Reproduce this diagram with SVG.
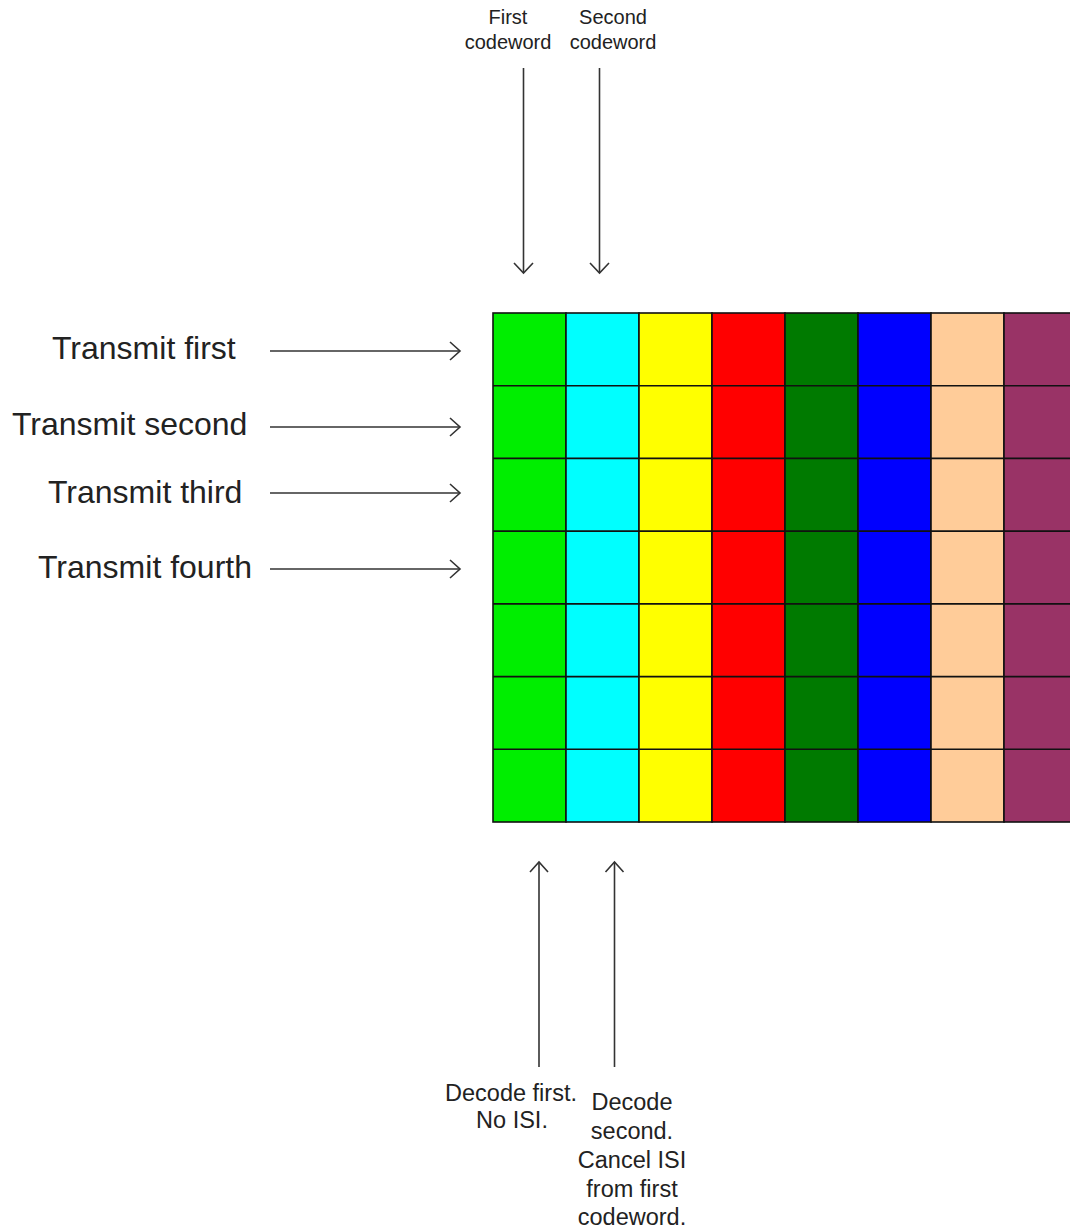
<svg xmlns="http://www.w3.org/2000/svg" width="1070" height="1230" viewBox="0 0 1070 1230">
<style>
text{font-family:"Liberation Sans",Arial,sans-serif;fill:#222}
.big{font-size:32px}
.sm{font-size:20px;text-anchor:middle}
.md{font-size:23.5px;text-anchor:middle}
.cn line{stroke:#333;stroke-width:1.6}
.cn path{fill:none;stroke:#333;stroke-width:1.6}
.cell{stroke:#111;stroke-width:1.6}
</style>
<rect width="1070" height="1230" fill="#fff"/>
<g id="grid">
<g id="col1"><rect class="cell" x="493" y="313" width="73" height="509" fill="#00ee00"/></g>
<g id="col2"><rect class="cell" x="566" y="313" width="73" height="509" fill="#00ffff"/></g>
<g id="col3"><rect class="cell" x="639" y="313" width="73" height="509" fill="#ffff00"/></g>
<g id="col4"><rect class="cell" x="712" y="313" width="73" height="509" fill="#ff0000"/></g>
<g id="col5"><rect class="cell" x="785" y="313" width="73" height="509" fill="#007a00"/></g>
<g id="col6"><rect class="cell" x="858" y="313" width="73" height="509" fill="#0000ff"/></g>
<g id="col7"><rect class="cell" x="931" y="313" width="73" height="509" fill="#ffcc99"/></g>
<g id="col8"><rect class="cell" x="1004" y="313" width="80" height="509" fill="#993366"/></g>
<g id="rows" stroke="#111" stroke-width="1.6">
<line x1="493" y1="385.7" x2="1070" y2="385.7"/>
<line x1="493" y1="458.4" x2="1070" y2="458.4"/>
<line x1="493" y1="531.1" x2="1070" y2="531.1"/>
<line x1="493" y1="603.9" x2="1070" y2="603.9"/>
<line x1="493" y1="676.6" x2="1070" y2="676.6"/>
<line x1="493" y1="749.3" x2="1070" y2="749.3"/>
</g>
</g>
<g id="labels">
<g id="lbl-first-cw"><text class="sm" x="508" y="24">First</text><text class="sm" x="508" y="49">codeword</text></g>
<g id="lbl-second-cw"><text class="sm" x="613" y="24">Second</text><text class="sm" x="613" y="49">codeword</text></g>
<g id="lbl-tx1"><text class="big" x="52" y="359">Transmit first</text></g>
<g id="lbl-tx2"><text class="big" x="12" y="435">Transmit second</text></g>
<g id="lbl-tx3"><text class="big" x="48" y="503">Transmit third</text></g>
<g id="lbl-tx4"><text class="big" x="38" y="578">Transmit fourth</text></g>
<g id="lbl-dec1"><text class="md" x="511" y="1101">Decode first.</text><text class="md" x="512" y="1128">No ISI.</text></g>
<g id="lbl-dec2"><text class="md" x="632" y="1110">Decode</text><text class="md" x="632" y="1139">second.</text><text class="md" x="632" y="1168">Cancel ISI</text><text class="md" x="632" y="1197">from first</text><text class="md" x="632" y="1225">codeword.</text></g>
</g>
<g id="connectors" class="cn">
<line x1="523.5" y1="68" x2="523.5" y2="273"/><path d="M514,263 L523.5,273 L533,263"/>
<line x1="599.5" y1="68" x2="599.5" y2="273"/><path d="M590,263 L599.5,273 L609,263"/>
<line x1="270" y1="351" x2="460" y2="351"/><path d="M450,342 L460,351 L450,360"/>
<line x1="270" y1="427" x2="460" y2="427"/><path d="M450,418 L460,427 L450,436"/>
<line x1="270" y1="493" x2="460" y2="493"/><path d="M450,484 L460,493 L450,502"/>
<line x1="270" y1="569" x2="460" y2="569"/><path d="M450,560 L460,569 L450,578"/>
<line x1="539" y1="862" x2="539" y2="1067"/><path d="M530,872 L539,862 L548,872"/>
<line x1="614.5" y1="862" x2="614.5" y2="1067"/><path d="M605.5,872 L614.5,862 L623.5,872"/>
</g>
</svg>
